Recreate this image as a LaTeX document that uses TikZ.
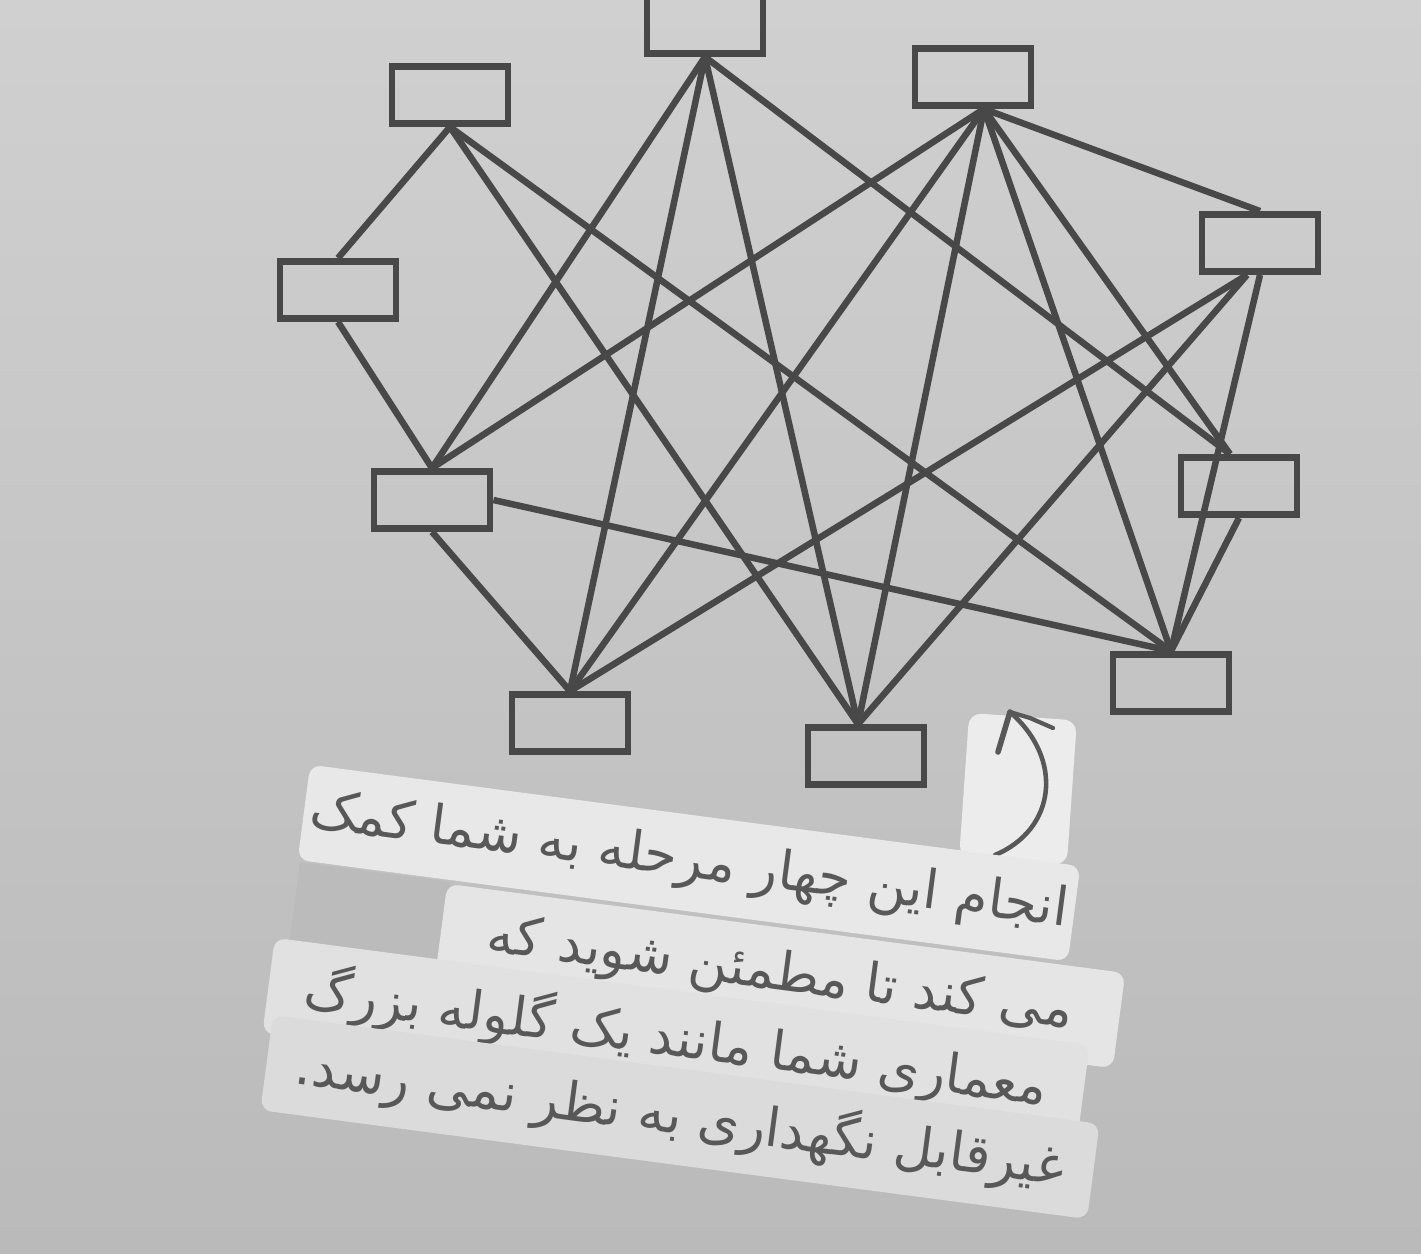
\documentclass[tikz,border=0pt]{standalone}
\usepackage{fontspec}
\newfontfamily\arabicfont[Script=Arabic]{DejaVu Sans}
\TeXXeTstate=1
\definecolor{bgtop}{RGB}{208,208,208}
\definecolor{bgbot}{RGB}{186,186,186}
\definecolor{ink}{RGB}{72,72,72}
\definecolor{txt}{RGB}{88,88,88}
\definecolor{patch}{RGB}{187,187,187}
\definecolor{card}{RGB}{236,236,236}
\definecolor{stripa}{RGB}{232,232,232}
\definecolor{stripb}{RGB}{229,229,229}
\definecolor{stripc}{RGB}{225,225,225}
\definecolor{stripd}{RGB}{219,219,219}

\begin{document}
\begin{tikzpicture}[x=0.02cm,y=-0.02cm,
blk/.style={rectangle,draw=ink,line width=3.9pt,minimum width=2.32cm,minimum height=1.14cm,inner sep=0pt},
wire/.style={ink,line width=3.7pt},
strip/.style={rectangle,rounded corners=0.22cm,minimum height=1.92cm,rotate=-7.5,inner sep=0pt,
text=txt,font=\arabicfont\fontsize{30.5}{36}\selectfont}]
\useasboundingbox (0,0) rectangle (1421,1254);
\shade[top color=bgtop,bottom color=bgbot] (0,0) rectangle (1421,1254);
% boxes
\node[blk] (A) at (450,95) {};
\node[blk] (B) at (705,25) {};
\node[blk] (C) at (973,77) {};
\node[blk] (D) at (1260,243) {};
\node[blk] (E) at (338,290) {};
\node[blk] (F) at (432,500) {};
\node[blk] (G) at (1239,486) {};
\node[blk] (H) at (1171,683) {};
\node[blk] (I) at (570,723) {};
\node[blk] (J) at (866,756) {};
% meeting points
\coordinate (Cs) at ([xshift=0.22cm]C.south);
\coordinate (Ds) at ([xshift=-0.26cm]D.south);
\coordinate (Gn) at ([xshift=-0.18cm]G.north);
\coordinate (Jn) at ([xshift=-0.16cm]J.north);
% links
\path[wire] (A.south) edge (E.north) edge (Jn) edge (H.north);
\path[wire] (E.south) edge (F.north);
\path[wire] (B.south) edge (F.north) edge (I.north) edge (Jn) edge (Gn);
\path[wire] (Cs) edge (F.north) edge (I.north) edge (Jn)
edge (H.north) edge (Gn) edge (D.north);
\path[wire] (Ds) edge (I.north) edge (Jn);
\path[wire] (D.south) edge (H.north);
\path[wire] (F.south) edge (I.north);
\path[wire] (F.east) edge (H.north);
\path[wire] (G.south) edge (H.north);
% hand drawn arrow card
\node[rectangle,rounded corners=0.25cm,fill=card,minimum width=2.16cm,minimum height=2.9cm,
rotate=-4] (card) at (1018,789) {};
\coordinate (tip) at (1010,712);
\draw[txt,line width=2.6pt,line cap=round] (995,855) .. controls (1055,830) and (1065,760) .. (tip);
\draw[txt,line width=3.2pt,line cap=round] (tip) -- (998,752);
\draw[txt,line width=2.4pt,line cap=round] (tip) -- (1030,718) -- (1053,728);
% caption strips
\fill[patch,rotate around={-7.5:(300,862)}] (300,862) rectangle (452,942);
\node[strip,fill=stripa,minimum width=15.54cm] (s1) at (689,863)
{\beginR انجام این چهار مرحله به شما کمک\endR};
\node[strip,fill=stripb,minimum width=13.68cm] (s2) at (780,976)
{\beginR می کند تا مطمئن شوید که\endR};
\node[strip,fill=stripc,minimum width=16.44cm] (s3) at (676,1039)
{\beginR معماری شما مانند یک گلوله بزرگ\endR};
\node[strip,fill=stripd,minimum width=16.68cm] (s4) at (680,1117)
{\beginR غیرقابل نگهداری به نظر نمی رسد.\endR};
\end{tikzpicture}
\end{document}
